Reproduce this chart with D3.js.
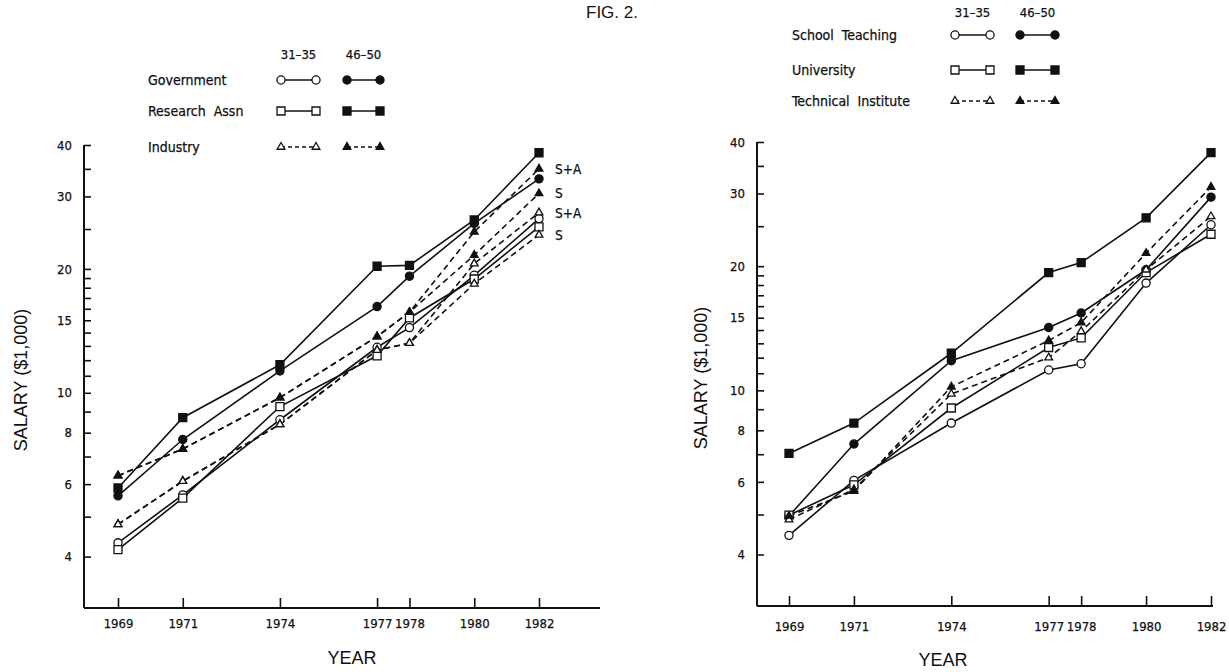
<!DOCTYPE html>
<html>
<head>
<meta charset="utf-8">
<script src="https://cdn.jsdelivr.net/npm/d3@7"></script>
<style>
  body { margin: 0; background: #fff; }
  svg { display: block; }
  .tick text, .lg, .note { font-family: "DejaVu Sans Condensed", "DejaVu Sans", sans-serif; font-stretch: condensed; fill: #111; stroke: #111; stroke-width: 0.25px; }
  .title { font-family: "Liberation Sans", Arial, sans-serif; fill: #111; }
</style>
</head>
<body>
<svg id="fig" width="1229" height="672"></svg>
<script>
// years on the x axis (both panels)
const years = [1969, 1971, 1974, 1977, 1978, 1980, 1982];
const yTicks = [4, 5, 6, 7, 8, 9, 10, 11, 12, 13, 14, 15, 16, 17, 18, 19, 20, 25, 30, 35, 40];
const yLabels = [4, 6, 8, 10, 15, 20, 30, 40];
const ageGroups = ['31-35', '46-50'];

// left panel, salary in $1,000
const govYoung = [4.32, 5.65, 8.6, 12.9, 14.4, 19.3, 26.5];
const govOld = [5.62, 7.7, 11.3, 16.2, 19.2, 25.8, 33.1];
const resYoung = [4.16, 5.55, 9.26, 12.3, 15.2, 18.9, 25.3];
const resOld = [5.87, 8.7, 11.7, 20.3, 20.4, 26.3, 38.3];
const indYoungS = [4.79, 6.1, 8.38, 12.7, 13.2, 18.4, 24.2];
const indYoungSA = [4.79, 6.1, 8.38, 12.7, 13.2, 20.6, 27.4];
const indOldS = [6.29, 7.3, 9.73, 13.7, 15.7, 21.6, 30.5];
const indOldSA = [6.29, 7.3, 9.73, 13.7, 15.7, 24.6, 35.0];
const endNotes = ['S+A', 'S', 'S+A', 'S'];

// right panel
const schYoung = [4.45, 6.05, 8.33, 11.2, 11.6, 18.2, 25.2];
const schOld = [4.96, 7.41, 11.8, 14.2, 15.4, 19.6, 29.4];
const uniYoung = [4.98, 5.9, 9.06, 12.7, 13.4, 19.3, 23.9];
const uniOld = [7.03, 8.33, 12.3, 19.3, 20.4, 26.2, 37.7];
const tecYoung = [4.86, 5.75, 9.8, 12.0, 13.9, 19.6, 26.4];
const tecOld = [4.96, 5.7, 10.2, 13.2, 14.6, 21.5, 31.1];

const svg = d3.select('#fig');

const shapes = {
    circle: d3.symbol().type(d3.symbolCircle).size(52),
    square: d3.symbol().type(d3.symbolSquare).size(64),
    triangle: d3.symbol().type(d3.symbolTriangle).size(26)
};

const leftSeries = [
    { vals: govYoung, shape: 'circle', fill: false, dash: false },
    { vals: govOld, shape: 'circle', fill: true, dash: false },
    { vals: resYoung, shape: 'square', fill: false, dash: false },
    { vals: resOld, shape: 'square', fill: true, dash: false },
    { vals: indYoungS, shape: 'triangle', fill: false, dash: true },
    { vals: indYoungSA, shape: 'triangle', fill: false, dash: true },
    { vals: indOldS, shape: 'triangle', fill: true, dash: true },
    { vals: indOldSA, shape: 'triangle', fill: true, dash: true }
];
const rightSeries = [
    { vals: schYoung, shape: 'circle', fill: false, dash: false },
    { vals: schOld, shape: 'circle', fill: true, dash: false },
    { vals: uniYoung, shape: 'square', fill: false, dash: false },
    { vals: uniOld, shape: 'square', fill: true, dash: false },
    { vals: tecYoung, shape: 'triangle', fill: false, dash: true },
    { vals: tecOld, shape: 'triangle', fill: true, dash: true }
];

const panel = (opt) => {
    const x = d3.scaleLinear().domain([1969, 1982]).range(opt.xr);
    const y = d3.scaleLog().domain([3, 40]).range(opt.yr);
    const g = svg.append('g');

    // y axis, ticks point inward
    const ya = g.append('g')
        .attr('transform', `translate(${opt.x0},0)`)
        .call(d3.axisLeft(y).tickValues(yTicks).tickSizeInner(-7).tickSizeOuter(0).tickPadding(12)
            .tickFormat(d => yLabels.includes(d) ? d : ''));
    ya.select('.domain').remove();
    ya.selectAll('.tick line').attr('stroke', '#111').attr('stroke-width', 1.6);
    ya.selectAll('.tick text').style('font-size', '13px');
    g.append('line').attr('x1', opt.x0).attr('x2', opt.x0).attr('y1', y(40)).attr('y2', y(3))
        .attr('stroke', '#111').attr('stroke-width', 2);

    // x axis
    const xa = g.append('g')
        .attr('transform', `translate(0,${y(3)})`)
        .call(d3.axisBottom(x).tickValues(years).tickSizeInner(-10).tickSizeOuter(0).tickPadding(opt.tp).tickFormat(d3.format('d')));
    xa.select('.domain').remove();
    xa.selectAll('.tick line').attr('stroke', '#111').attr('stroke-width', 1.6);
    xa.selectAll('.tick text').style('font-size', '13px');
    g.append('line').attr('x1', opt.x0).attr('x2', opt.x1).attr('y1', y(3)).attr('y2', y(3))
        .attr('stroke', '#111').attr('stroke-width', 2);

    const line = d3.line().x((d, i) => x(years[i])).y(d => y(d));

    opt.series.forEach(s => {
        g.append('path')
            .attr('d', line(s.vals))
            .attr('fill', 'none')
            .attr('stroke', '#111')
            .attr('stroke-width', 1.6)
            .attr('stroke-dasharray', s.dash ? '6,4' : null);
    });
    opt.series.forEach(s => {
        g.selectAll(null)
            .data(s.vals)
            .enter()
            .append('path')
            .attr('transform', (d, i) => `translate(${x(years[i])},${y(d)})`)
            .attr('d', shapes[s.shape])
            .attr('fill', s.fill ? '#111' : '#fff')
            .attr('stroke', '#111')
            .attr('stroke-width', 1.3);
    });

    g.append('text').attr('class', 'title')
        .attr('transform', `translate(${opt.tx},${opt.ty}) rotate(-90)`)
        .attr('text-anchor', 'middle')
        .style('font-size', '18px')
        .text('SALARY ($1,000)');
    g.append('text').attr('class', 'title')
        .attr('x', opt.yearX).attr('y', opt.yearY)
        .attr('text-anchor', 'middle')
        .style('font-size', '18px')
        .text('YEAR');
    return { x, y, g };
};

const left = panel({ xr: [118, 539], yr: [608, 145], x0: 84, x1: 600, series: leftSeries, tp: 11,
    tx: 27, ty: 380, yearX: 352, yearY: 664 });
const right = panel({ xr: [789, 1211], yr: [606, 142], x0: 757, x1: 1213, series: rightSeries, tp: 16,
    tx: 707, ty: 378, yearX: 943, yearY: 666 });

// S / S+A notes at the 1982 end of the industry lines
const notesAt = [indOldSA, indOldS, indYoungSA, indYoungS];
endNotes.forEach((t, i) => {
    left.g.append('text').attr('class', 'note')
        .attr('x', left.x(1982) + 16)
        .attr('y', left.y(notesAt[i][6]) + 5)
        .style('font-size', '13.5px')
        .text(t);
});

// legends
const legend = (opt) => {
    const g = svg.append('g');
    ageGroups.forEach((a, j) => {
        g.append('text').attr('class', 'lg')
            .attr('x', (opt.pairs[j][0] + opt.pairs[j][1]) / 2).attr('y', opt.headY)
            .attr('text-anchor', 'middle').style('font-size', '13px')
            .text(a.replace('-', '–'));
    });
    opt.rows.forEach((r, i) => {
        const yy = opt.rowY[i];
        g.append('text').attr('class', 'lg')
            .attr('x', opt.textX).attr('y', yy + 5)
            .style('font-size', '14px')
            .style('word-spacing', '4px')
            .text(r);
        opt.pairs.forEach((p, j) => {
            const ss = opt.series[i * 2 + j];
            g.append('line').attr('x1', p[0]).attr('x2', p[1]).attr('y1', yy).attr('y2', yy)
                .attr('stroke', '#111').attr('stroke-width', 1.5)
                .attr('stroke-dasharray', ss.dash ? '4,3' : null);
            p.forEach(px => {
                g.append('path')
                    .attr('transform', `translate(${px},${yy})`)
                    .attr('d', shapes[ss.shape])
                    .attr('fill', ss.fill ? '#111' : '#fff')
                    .attr('stroke', '#111').attr('stroke-width', 1.3);
            });
        });
    });
};

legend({ rows: ['Government', 'Research Assn', 'Industry'], rowY: [80, 111, 147], headY: 59, textX: 148,
    pairs: [[281, 316], [347, 380]],
    series: [leftSeries[0], leftSeries[1], leftSeries[2], leftSeries[3], leftSeries[4], leftSeries[6]] });
legend({ rows: ['School Teaching', 'University', 'Technical Institute'], rowY: [35, 70, 101], headY: 17, textX: 792,
    pairs: [[955, 990], [1020, 1055]],
    series: rightSeries });

svg.append('text').attr('class', 'title')
    .attr('x', 612).attr('y', 18)
    .attr('text-anchor', 'middle')
    .style('font-size', '17px')
    .text('FIG. 2.');
</script>
</body>
</html>
